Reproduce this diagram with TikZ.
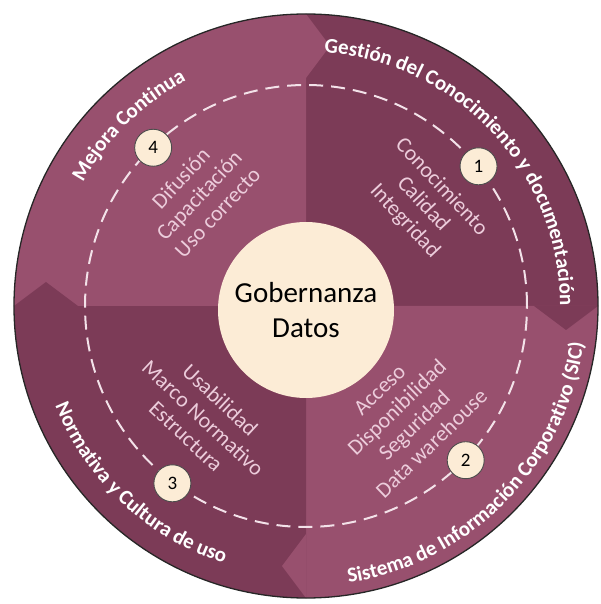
\documentclass[tikz,border=0pt]{standalone}
\usepackage{fontspec}
\setmainfont{Carlito}
\usetikzlibrary{decorations.text}
\definecolor{segLight}{RGB}{152,80,110}
\definecolor{segDark}{RGB}{124,59,87}
\definecolor{creamFill}{RGB}{252,236,214}
\definecolor{itemPink}{RGB}{236,204,219}
\definecolor{dashPink}{RGB}{243,226,233}
\tikzset{
  ringtext/.style={decorate,decoration={text along path,text align=center,
    text color=white,text format delimiters={|}{|}}},
  items/.style={align=center,text=itemPink,font=\fontsize{22}{25}\selectfont},
  numdot/.style={circle,draw=black!70,line width=0.9pt,fill=creamFill,
    minimum size=37pt,inner sep=0pt,font=\fontsize{19}{19}\selectfont}
}
\begin{document}
\begin{tikzpicture}[x=1pt,y=1pt]
  \useasboundingbox (-306,-298) rectangle (294,306);
  % quadrants
  \fill[segDark] (0,0) -- (90:292) arc[start angle=90,end angle=0,radius=292] -- cycle;
  \fill[segLight] (0,0) -- (0:292) arc[start angle=0,end angle=-90,radius=292] -- cycle;
  \fill[segDark] (0,0) -- (270:292) arc[start angle=270,end angle=180,radius=292] -- cycle;
  \fill[segLight] (0,0) -- (180:292) arc[start angle=180,end angle=90,radius=292] -- cycle;
  % arrow tips of the ring
  \fill[segLight] (0,228) -- (24,260) -- (0,292) -- cycle;
  \fill[segDark] (228,0) -- (260,-24) -- (292,0) -- cycle;
  \fill[segLight] (0,-228) -- (-24,-260) -- (0,-292) -- cycle;
  \fill[segDark] (-228,0) -- (-260,24) -- (-292,0) -- cycle;
  \draw[black!85,line width=1.3pt] (0,0) circle (292);
  \draw[dashPink,line width=2pt,dash pattern=on 14pt off 8pt] (0,0) circle (221);
  % ring labels
  \path[ringtext,decoration={text={|\bfseries\fontsize{21}{21}\selectfont|Gestión del Conocimiento y documentación}}]
    (89:254) arc[start angle=89,end angle=-3,radius=254];
  \path[ringtext,decoration={text={|\bfseries\fontsize{21}{21}\selectfont|Sistema de Información Corporativo (SIC)}}]
    (-89:280) arc[start angle=-89,end angle=0,radius=280];
  \path[ringtext,decoration={text={|\bfseries\fontsize{21}{21}\selectfont|Normativa y Cultura de uso}}]
    (192:270) arc[start angle=192,end angle=262,radius=270];
  \path[ringtext,decoration={text={|\bfseries\fontsize{21}{21}\selectfont|Mejora Continua}}]
    (165:255) arc[start angle=165,end angle=104,radius=255];
  % items
  \node[items,rotate=-47] (conocimiento) at (41:155) {Conocimiento\\Calidad\\Integridad};
  \node[items,rotate=44] (acceso) at (-48:149) {Acceso\\Disponibilidad\\Seguridad\\Data warehouse};
  \node[items,rotate=-43] (usabilidad) at (227.5:152) {Usabilidad\\Marco Normativo\\Estructura};
  \node[items,rotate=47] (difusion) at (134:154) {Difusión\\Capacitación\\Uso correcto};
  % numbers
  \node[numdot] (n1) at (39:222) {1};
  \node[numdot] (n2) at (-44:222) {2};
  \node[numdot] (n3) at (233:222) {3};
  \node[numdot] (n4) at (134:220) {4};
  \node[circle,fill=creamFill,minimum size=176pt,inner sep=0pt,align=center,
    font=\fontsize{29}{35}\selectfont] (gobernanza) at (0,-4) {Gobernanza\\Datos};
\end{tikzpicture}
\end{document}
